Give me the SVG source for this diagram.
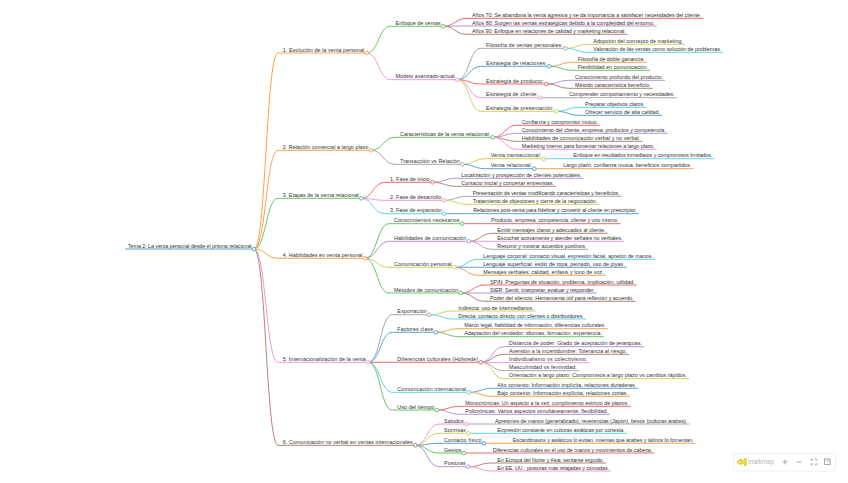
<svg xmlns="http://www.w3.org/2000/svg" width="848" height="483" viewBox="0 0 848 483">
<style>
svg{background:#fff}
.blue{stroke:#5ba3d6}.orange{stroke:#ffa04d}.green{stroke:#6cc26c}.red{stroke:#ee6a6a}.purple{stroke:#b594d6}.brown{stroke:#b0857d}.pink{stroke:#f09ad6}.gray{stroke:#a8a8a8}.olive{stroke:#d1d160}.cyan{stroke:#5fd4e4}
#links path{fill:none;stroke-width:1}
.node line{stroke-width:1}
.node circle{fill:#fff;stroke-width:1}
text{font-family:"Liberation Sans",Arial,sans-serif;font-size:5.4px;fill:#333;stroke:none;transform:translateY(.5px)}
#toolbar rect{fill:#fff;stroke:#ececec;stroke-width:.8}
#toolbar .ic{fill:none;stroke:#aaa;stroke-width:1.1}
#toolbar text{font-size:6.3px;fill:#b5b5b5;transform:none}
</style>
<g id="links">
<path class="orange" d="M254 249C266 249 266 53 278 53"/>
<path class="orange" d="M254 249C266 249 266 150.3 278 150.3"/>
<path class="green" d="M254 249C266 249 266 198.3 278 198.3"/>
<path class="orange" d="M254 249C266 249 266 258.3 278 258.3"/>
<path class="pink" d="M254 249C266 249 266 362.3 278 362.3"/>
<path class="brown" d="M254 249C266 249 266 445.3 278 445.3"/>
<path class="green" d="M366.7 53C378.6 53 378.6 26.3 390.5 26.3"/>
<path class="pink" d="M366.7 53C378.6 53 378.6 79.7 390.5 79.7"/>
<path class="red" d="M443.3 26.3C455 26.3 455 18.3 467 18.3"/>
<path class="purple" d="M443.3 26.3C455 26.3 455 26 467 26"/>
<path class="brown" d="M443.3 26.3C455 26.3 455 34.3 467 34.3"/>
<path class="gray" d="M457.3 79.7C469.2 79.7 469.2 48.3 481 48.3"/>
<path class="blue" d="M457.3 79.7C469.2 79.7 469.2 66.3 481 66.3"/>
<path class="red" d="M457.3 79.7C469.2 79.7 469.2 84 481 84"/>
<path class="pink" d="M457.3 79.7C469.2 79.7 469.2 97.7 481 97.7"/>
<path class="olive" d="M457.3 79.7C469.2 79.7 469.2 111.3 481 111.3"/>
<path class="olive" d="M565.3 48.3C577 48.3 577 44.3 588.3 44.3"/>
<path class="cyan" d="M565.3 48.3C577 48.3 577 52.3 588.3 52.3"/>
<path class="orange" d="M549.3 66.3C561 66.3 561 62.3 572.7 62.3"/>
<path class="green" d="M549.3 66.3C561 66.3 561 70.3 572.7 70.3"/>
<path class="purple" d="M546.3 84C558 84 558 80.3 570 80.3"/>
<path class="brown" d="M546.3 84C558 84 558 88.3 570 88.3"/>
<path class="gray" d="M540.3 97.7H564"/>
<path class="cyan" d="M556.3 111.3C568 111.3 568 107.3 580 107.3"/>
<path class="blue" d="M556.3 111.3C568 111.3 568 115.3 580 115.3"/>
<path class="green" d="M371 150.3C383 150.3 383 137.3 395 137.3"/>
<path class="gray" d="M371 150.3C383 150.3 383 164.3 395 164.3"/>
<path class="red" d="M492.7 137.3C504.7 137.3 504.7 125.3 516.7 125.3"/>
<path class="purple" d="M492.7 137.3C504.7 137.3 504.7 133.3 516.7 133.3"/>
<path class="brown" d="M492.7 137.3C504.7 137.3 504.7 141.3 516.7 141.3"/>
<path class="pink" d="M492.7 137.3C504.7 137.3 504.7 149.3 516.7 149.3"/>
<path class="olive" d="M462.3 164.3C474 164.3 474 158.7 485.7 158.7"/>
<path class="blue" d="M462.3 164.3C474 164.3 474 168.7 485.7 168.7"/>
<path class="cyan" d="M543.7 158.7H568.3"/>
<path class="orange" d="M534.3 168.7H558.3"/>
<path class="red" d="M361.3 198.3C373 198.3 373 182.3 385 182.3"/>
<path class="pink" d="M361.3 198.3C373 198.3 373 200.3 385 200.3"/>
<path class="cyan" d="M361.3 198.3C373 198.3 373 213.7 385 213.7"/>
<path class="purple" d="M432.3 182.3C444.3 182.3 444.3 178.3 456.3 178.3"/>
<path class="brown" d="M432.3 182.3C444.3 182.3 444.3 186.3 456.3 186.3"/>
<path class="gray" d="M443.7 200.3C455.7 200.3 455.7 196.3 467.7 196.3"/>
<path class="olive" d="M443.7 200.3C455.7 200.3 455.7 204.3 467.7 204.3"/>
<path class="blue" d="M444.3 213.7H468.3"/>
<path class="green" d="M365 258.3C377 258.3 377 223.7 389 223.7"/>
<path class="purple" d="M365 258.3C377 258.3 377 241.3 389 241.3"/>
<path class="olive" d="M365 258.3C377 258.3 377 267.3 389 267.3"/>
<path class="green" d="M365 258.3C377 258.3 377 293 389 293"/>
<path class="red" d="M462 223.7H486"/>
<path class="brown" d="M468.7 241.3C480.5 241.3 480.5 233.3 492.3 233.3"/>
<path class="pink" d="M468.7 241.3H492.3"/>
<path class="gray" d="M468.7 241.3C480.5 241.3 480.5 249.3 492.3 249.3"/>
<path class="cyan" d="M454.3 267.3C466.3 267.3 466.3 259.3 478.3 259.3"/>
<path class="blue" d="M454.3 267.3H478.3"/>
<path class="orange" d="M454.3 267.3C466.3 267.3 466.3 275.3 478.3 275.3"/>
<path class="red" d="M460.7 293C473 293 473 285 485 285"/>
<path class="purple" d="M460.7 293H485"/>
<path class="brown" d="M460.7 293C473 293 473 301.3 485 301.3"/>
<path class="gray" d="M368.3 362.3C380.3 362.3 380.3 314.7 392.3 314.7"/>
<path class="blue" d="M368.3 362.3C380.3 362.3 380.3 332.3 392.3 332.3"/>
<path class="red" d="M368.3 362.3H392.3"/>
<path class="cyan" d="M368.3 362.3C380.3 362.3 380.3 392.3 392.3 392.3"/>
<path class="green" d="M368.3 362.3C380.3 362.3 380.3 410 392.3 410"/>
<path class="olive" d="M429.3 314.7C441.3 314.7 441.3 311 453.3 311"/>
<path class="cyan" d="M429.3 314.7C441.3 314.7 441.3 319 453.3 319"/>
<path class="orange" d="M435.7 332.3C447.5 332.3 447.5 328.7 459.3 328.7"/>
<path class="green" d="M435.7 332.3C447.5 332.3 447.5 336.7 459.3 336.7"/>
<path class="purple" d="M480.7 362.3C492.3 362.3 492.3 346.7 504 346.7"/>
<path class="brown" d="M480.7 362.3C492.3 362.3 492.3 354.3 504 354.3"/>
<path class="pink" d="M480.7 362.3C492.3 362.3 492.3 362.7 504 362.7"/>
<path class="gray" d="M480.7 362.3C492.3 362.3 492.3 370.7 504 370.7"/>
<path class="olive" d="M480.7 362.3C492.3 362.3 492.3 378.7 504 378.7"/>
<path class="blue" d="M468.7 392.3C480.5 392.3 480.5 388.3 492.3 388.3"/>
<path class="orange" d="M468.7 392.3C480.5 392.3 480.5 396.3 492.3 396.3"/>
<path class="red" d="M436.7 410C448.5 410 448.5 406.3 460.3 406.3"/>
<path class="purple" d="M436.7 410C448.5 410 448.5 414.3 460.3 414.3"/>
<path class="pink" d="M415.3 445.3C427 445.3 427 424 439 424"/>
<path class="olive" d="M415.3 445.3C427 445.3 427 433.3 439 433.3"/>
<path class="blue" d="M415.3 445.3C427 445.3 427 443.3 439 443.3"/>
<path class="green" d="M415.3 445.3C427 445.3 427 453 439 453"/>
<path class="purple" d="M415.3 445.3C427 445.3 427 466.7 439 466.7"/>
<path class="gray" d="M466.3 424H490"/>
<path class="cyan" d="M468.3 433.3H492.3"/>
<path class="orange" d="M484 443.3H507.7"/>
<path class="red" d="M464 453H487.7"/>
<path class="brown" d="M468.3 466.7C480.3 466.7 480.3 463 492.3 463"/>
<path class="pink" d="M468.3 466.7C480.3 466.7 480.3 471 492.3 471"/>
</g>
<g id="root" class="node blue"><line x1="125" y1="249" x2="254" y2="249"/><circle cx="254" cy="249" r="1.8"/><text x="128" y="247.3" textLength="123.5">Tema 2: La venta personal desde el prisma relacional</text></g>
<g id="n1" class="node orange"><line x1="278" y1="53" x2="366.7" y2="53"/><circle cx="366.7" cy="53" r="1.8"/><text x="282.7" y="51" textLength="81.5">1. Evolución de la venta personal</text></g>
<g id="n1-1" class="node green"><line x1="390.5" y1="26.3" x2="443.3" y2="26.3"/><circle cx="443.3" cy="26.3" r="1.8"/><text x="395.5" y="24.3" textLength="45.3">Enfoque de ventas</text></g>
<g id="n1-1-1" class="node red"><line x1="467" y1="18.3" x2="703.3" y2="18.3"/><text x="472" y="16.3" textLength="229.3">Años 70: Se abandona la venta agresiva y se da importancia a satisfacer necesidades del cliente.</text></g>
<g id="n1-1-2" class="node purple"><line x1="467" y1="26" x2="656.7" y2="26"/><text x="472" y="24" textLength="182.7">Años 80: Surgen las ventas estratégicas debido a la complejidad del entorno.</text></g>
<g id="n1-1-3" class="node brown"><line x1="467" y1="34.3" x2="627.7" y2="34.3"/><text x="472" y="32.3" textLength="153.7">Años 90: Enfoque en relaciones de calidad y marketing relacional.</text></g>
<g id="n1-2" class="node pink"><line x1="390.5" y1="79.7" x2="457.3" y2="79.7"/><circle cx="457.3" cy="79.7" r="1.8"/><text x="395.5" y="77.7" textLength="59.3">Modelo avanzado-actual</text></g>
<g id="n1-2-1" class="node gray"><line x1="481" y1="48.3" x2="565.3" y2="48.3"/><circle cx="565.3" cy="48.3" r="1.8"/><text x="486" y="46.3" textLength="76.8">Filosofía de ventas personales:</text></g>
<g id="n1-2-1-1" class="node olive"><line x1="588.3" y1="44.3" x2="685" y2="44.3"/><text x="593.3" y="42.3" textLength="89.7">Adopción del concepto de marketing.</text></g>
<g id="n1-2-1-2" class="node cyan"><line x1="588.3" y1="52.3" x2="723.3" y2="52.3"/><text x="593.3" y="50.3" textLength="128">Valoración de las ventas como solución de problemas.</text></g>
<g id="n1-2-2" class="node blue"><line x1="481" y1="66.3" x2="549.3" y2="66.3"/><circle cx="549.3" cy="66.3" r="1.8"/><text x="486" y="64.3" textLength="60.8">Estrategia de relaciones:</text></g>
<g id="n1-2-2-1" class="node orange"><line x1="572.7" y1="62.3" x2="646.7" y2="62.3"/><text x="577.7" y="60.3" textLength="67">Filosofía de doble ganancia.</text></g>
<g id="n1-2-2-2" class="node green"><line x1="572.7" y1="70.3" x2="650" y2="70.3"/><text x="577.7" y="68.3" textLength="70.3">Flexibilidad en comunicación.</text></g>
<g id="n1-2-3" class="node red"><line x1="481" y1="84" x2="546.3" y2="84"/><circle cx="546.3" cy="84" r="1.8"/><text x="486" y="82" textLength="57.8">Estrategia de producto:</text></g>
<g id="n1-2-3-1" class="node purple"><line x1="570" y1="80.3" x2="665" y2="80.3"/><text x="575" y="78.3" textLength="88">Conocimiento profundo del producto.</text></g>
<g id="n1-2-3-2" class="node brown"><line x1="570" y1="88.3" x2="652.7" y2="88.3"/><text x="575" y="86.3" textLength="75.7">Método característica beneficio.</text></g>
<g id="n1-2-4" class="node pink"><line x1="481" y1="97.7" x2="540.3" y2="97.7"/><circle cx="540.3" cy="97.7" r="1.8"/><text x="486" y="95.7" textLength="51.8">Estrategia de cliente:</text></g>
<g id="n1-2-4-1" class="node gray"><line x1="564" y1="97.7" x2="676.7" y2="97.7"/><text x="569" y="95.7" textLength="105.7">Comprender comportamiento y necesidades.</text></g>
<g id="n1-2-5" class="node olive"><line x1="481" y1="111.3" x2="556.3" y2="111.3"/><circle cx="556.3" cy="111.3" r="1.8"/><text x="486" y="109.3" textLength="67.8">Estrategia de presentación:</text></g>
<g id="n1-2-5-1" class="node cyan"><line x1="580" y1="107.3" x2="646.7" y2="107.3"/><text x="585" y="105.3" textLength="59.7">Preparar objetivos claros.</text></g>
<g id="n1-2-5-2" class="node blue"><line x1="580" y1="115.3" x2="662" y2="115.3"/><text x="585" y="113.3" textLength="75">Ofrecer servicio de alta calidad.</text></g>
<g id="n2" class="node orange"><line x1="278" y1="150.3" x2="371" y2="150.3"/><circle cx="371" cy="150.3" r="1.8"/><text x="282.7" y="148.3" textLength="85.8">2. Relación comercial a largo plazo</text></g>
<g id="n2-1" class="node green"><line x1="395" y1="137.3" x2="492.7" y2="137.3"/><circle cx="492.7" cy="137.3" r="1.8"/><text x="400" y="135.3" textLength="90.2">Características de la venta relacional:</text></g>
<g id="n2-1-1" class="node red"><line x1="516.7" y1="125.3" x2="600" y2="125.3"/><text x="521.7" y="123.3" textLength="76.3">Confianza y compromiso mutuo.</text></g>
<g id="n2-1-2" class="node purple"><line x1="516.7" y1="133.3" x2="667.7" y2="133.3"/><text x="521.7" y="131.3" textLength="144">Conocimiento del cliente, empresa, productos y competencia.</text></g>
<g id="n2-1-3" class="node brown"><line x1="516.7" y1="141.3" x2="642.3" y2="141.3"/><text x="521.7" y="139.3" textLength="118.6">Habilidades de comunicación verbal y no verbal.</text></g>
<g id="n2-1-4" class="node pink"><line x1="516.7" y1="149.3" x2="656.7" y2="149.3"/><text x="521.7" y="147.3" textLength="133">Marketing interno para fomentar relaciones a largo plazo.</text></g>
<g id="n2-2" class="node gray"><line x1="395" y1="164.3" x2="462.3" y2="164.3"/><circle cx="462.3" cy="164.3" r="1.8"/><text x="400" y="162.3" textLength="59.8">Transacción vs Relación</text></g>
<g id="n2-2-1" class="node olive"><line x1="485.7" y1="158.7" x2="543.7" y2="158.7"/><circle cx="543.7" cy="158.7" r="1.8"/><text x="490.7" y="156.7" textLength="50.5">Venta transaccional:</text></g>
<g id="n2-2-1-1" class="node cyan"><line x1="568.3" y1="158.7" x2="714.3" y2="158.7"/><text x="573.3" y="156.7" textLength="139">Enfoque en resultados inmediatos y compromisos limitados.</text></g>
<g id="n2-2-2" class="node blue"><line x1="485.7" y1="168.7" x2="534.3" y2="168.7"/><circle cx="534.3" cy="168.7" r="1.8"/><text x="490.7" y="166.7" textLength="41.1">Venta relacional:</text></g>
<g id="n2-2-2-1" class="node orange"><line x1="558.3" y1="168.7" x2="693.3" y2="168.7"/><text x="563.3" y="166.7" textLength="128">Largo plazo, confianza mutua, beneficios compartidos.</text></g>
<g id="n3" class="node green"><line x1="278" y1="198.3" x2="361.3" y2="198.3"/><circle cx="361.3" cy="198.3" r="1.8"/><text x="282.7" y="196.3" textLength="76.1">3. Etapas de la venta relacional</text></g>
<g id="n3-1" class="node red"><line x1="385" y1="182.3" x2="432.3" y2="182.3"/><circle cx="432.3" cy="182.3" r="1.8"/><text x="390" y="180.3" textLength="39.8">1. Fase de inicio</text></g>
<g id="n3-1-1" class="node purple"><line x1="456.3" y1="178.3" x2="583.3" y2="178.3"/><text x="461.3" y="176.3" textLength="120">Localización y prospección de clientes potenciales.</text></g>
<g id="n3-1-2" class="node brown"><line x1="456.3" y1="186.3" x2="556" y2="186.3"/><text x="461.3" y="184.3" textLength="92.7">Contacto inicial y concertar entrevistas.</text></g>
<g id="n3-2" class="node pink"><line x1="385" y1="200.3" x2="443.7" y2="200.3"/><circle cx="443.7" cy="200.3" r="1.8"/><text x="390" y="198.3" textLength="51.2">2. Fase de desarrollo</text></g>
<g id="n3-2-1" class="node gray"><line x1="467.7" y1="196.3" x2="621.7" y2="196.3"/><text x="472.7" y="194.3" textLength="147">Presentación de ventas modificando características y beneficios.</text></g>
<g id="n3-2-2" class="node olive"><line x1="467.7" y1="204.3" x2="599.3" y2="204.3"/><text x="472.7" y="202.3" textLength="124.6">Tratamiento de objeciones y cierre de la negociación.</text></g>
<g id="n3-3" class="node cyan"><line x1="385" y1="213.7" x2="444.3" y2="213.7"/><circle cx="444.3" cy="213.7" r="1.8"/><text x="390" y="211.7" textLength="51.8">3. Fase de expansión</text></g>
<g id="n3-3-1" class="node blue"><line x1="468.3" y1="213.7" x2="638.7" y2="213.7"/><text x="473.3" y="211.7" textLength="163.4">Relaciones post-venta para fidelizar y convertir al cliente en prescriptor.</text></g>
<g id="n4" class="node orange"><line x1="278" y1="258.3" x2="365" y2="258.3"/><circle cx="365" cy="258.3" r="1.8"/><text x="282.7" y="256.3" textLength="79.8">4. Habilidades en venta personal</text></g>
<g id="n4-1" class="node green"><line x1="389" y1="223.7" x2="462" y2="223.7"/><circle cx="462" cy="223.7" r="1.8"/><text x="394" y="221.7" textLength="65.5">Conocimientos necesarios</text></g>
<g id="n4-1-1" class="node red"><line x1="486" y1="223.7" x2="620.7" y2="223.7"/><text x="491" y="221.7" textLength="127.7">Producto, empresa, competencia, cliente y uno mismo.</text></g>
<g id="n4-2" class="node purple"><line x1="389" y1="241.3" x2="468.7" y2="241.3"/><circle cx="468.7" cy="241.3" r="1.8"/><text x="394" y="239.3" textLength="72.2">Habilidades de comunicación</text></g>
<g id="n4-2-1" class="node brown"><line x1="492.3" y1="233.3" x2="607.7" y2="233.3"/><text x="497.3" y="231.3" textLength="108.4">Emitir mensajes claros y adecuados al cliente.</text></g>
<g id="n4-2-2" class="node pink"><line x1="492.3" y1="241.3" x2="624.3" y2="241.3"/><text x="497.3" y="239.3" textLength="125">Escuchar activamente y atender señales no verbales.</text></g>
<g id="n4-2-3" class="node gray"><line x1="492.3" y1="249.3" x2="588.3" y2="249.3"/><text x="497.3" y="247.3" textLength="89">Resumir y mostrar acuerdos positivos.</text></g>
<g id="n4-3" class="node olive"><line x1="389" y1="267.3" x2="454.3" y2="267.3"/><circle cx="454.3" cy="267.3" r="1.8"/><text x="394" y="265.3" textLength="57.8">Comunicación personal</text></g>
<g id="n4-3-1" class="node cyan"><line x1="478.3" y1="259.3" x2="655" y2="259.3"/><text x="483.3" y="257.3" textLength="169.7">Lenguaje corporal: contacto visual, expresión facial, apretón de manos.</text></g>
<g id="n4-3-2" class="node blue"><line x1="478.3" y1="267.3" x2="626.7" y2="267.3"/><text x="483.3" y="265.3" textLength="141.4">Lenguaje superficial: estilo de ropa, peinado, uso de joyas.</text></g>
<g id="n4-3-3" class="node orange"><line x1="478.3" y1="275.3" x2="605.7" y2="275.3"/><text x="483.3" y="273.3" textLength="120.4">Mensajes verbales: calidad, énfasis y tono de voz.</text></g>
<g id="n4-4" class="node green"><line x1="389" y1="293" x2="460.7" y2="293"/><circle cx="460.7" cy="293" r="1.8"/><text x="394" y="291" textLength="64.2">Métodos de comunicación</text></g>
<g id="n4-4-1" class="node red"><line x1="485" y1="285" x2="636.7" y2="285"/><text x="490" y="283" textLength="144.7">SPIN: Preguntas de situación, problema, implicación, utilidad.</text></g>
<g id="n4-4-2" class="node purple"><line x1="485" y1="293" x2="596.7" y2="293"/><text x="490" y="291" textLength="104.7">SIER: Sentir, interpretar, evaluar y responder.</text></g>
<g id="n4-4-3" class="node brown"><line x1="485" y1="301.3" x2="635.7" y2="301.3"/><text x="490" y="299.3" textLength="143.7">Poder del silencio: Herramienta útil para reflexión y acuerdo.</text></g>
<g id="n5" class="node pink"><line x1="278" y1="362.3" x2="368.3" y2="362.3"/><circle cx="368.3" cy="362.3" r="1.8"/><text x="282.7" y="360.3" textLength="83.1">5. Internacionalización de la venta</text></g>
<g id="n5-1" class="node gray"><line x1="392.3" y1="314.7" x2="429.3" y2="314.7"/><circle cx="429.3" cy="314.7" r="1.8"/><text x="397.3" y="312.7" textLength="29.5">Exportación</text></g>
<g id="n5-1-1" class="node olive"><line x1="453.3" y1="311" x2="535.7" y2="311"/><text x="458.3" y="309" textLength="75.4">Indirecta: uso de intermediarios.</text></g>
<g id="n5-1-2" class="node cyan"><line x1="453.3" y1="319" x2="586" y2="319"/><text x="458.3" y="317" textLength="125.7">Directa: contacto directo con clientes o distribuidores.</text></g>
<g id="n5-2" class="node blue"><line x1="392.3" y1="332.3" x2="435.7" y2="332.3"/><circle cx="435.7" cy="332.3" r="1.8"/><text x="397.3" y="330.3" textLength="35.9">Factores clave</text></g>
<g id="n5-2-1" class="node orange"><line x1="459.3" y1="328.7" x2="607.7" y2="328.7"/><text x="464.3" y="326.7" textLength="141.4">Marco legal, fiabilidad de información, diferencias culturales.</text></g>
<g id="n5-2-2" class="node green"><line x1="459.3" y1="336.7" x2="604" y2="336.7"/><text x="464.3" y="334.7" textLength="137.7">Adaptación del vendedor: idiomas, formación, experiencia.</text></g>
<g id="n5-3" class="node red"><line x1="392.3" y1="362.3" x2="480.7" y2="362.3"/><circle cx="480.7" cy="362.3" r="1.8"/><text x="397.3" y="360.3" textLength="80.9">Diferencias culturales (Hofstede)</text></g>
<g id="n5-3-1" class="node purple"><line x1="504" y1="346.7" x2="644" y2="346.7"/><text x="509" y="344.7" textLength="133">Distancia de poder: Grado de aceptación de jerarquías.</text></g>
<g id="n5-3-2" class="node brown"><line x1="504" y1="354.3" x2="629" y2="354.3"/><text x="509" y="352.3" textLength="118">Aversión a la incertidumbre: Tolerancia al riesgo.</text></g>
<g id="n5-3-3" class="node pink"><line x1="504" y1="362.7" x2="589.3" y2="362.7"/><text x="509" y="360.7" textLength="78.3">Individualismo vs colectivismo.</text></g>
<g id="n5-3-4" class="node gray"><line x1="504" y1="370.7" x2="579" y2="370.7"/><text x="509" y="368.7" textLength="68">Masculinidad vs feminidad.</text></g>
<g id="n5-3-5" class="node olive"><line x1="504" y1="378.7" x2="689" y2="378.7"/><text x="509" y="376.7" textLength="178">Orientación a largo plazo: Compromisos a largo plazo vs cambios rápidos.</text></g>
<g id="n5-4" class="node cyan"><line x1="392.3" y1="392.3" x2="468.7" y2="392.3"/><circle cx="468.7" cy="392.3" r="1.8"/><text x="397.3" y="390.3" textLength="68.9">Comunicación internacional</text></g>
<g id="n5-4-1" class="node blue"><line x1="492.3" y1="388.3" x2="638.3" y2="388.3"/><text x="497.3" y="386.3" textLength="139">Alto contexto: Información implícita, relaciones duraderas.</text></g>
<g id="n5-4-2" class="node orange"><line x1="492.3" y1="396.3" x2="630" y2="396.3"/><text x="497.3" y="394.3" textLength="130.7">Bajo contexto: Información explícita, relaciones cortas.</text></g>
<g id="n5-5" class="node green"><line x1="392.3" y1="410" x2="436.7" y2="410"/><circle cx="436.7" cy="410" r="1.8"/><text x="397.3" y="408" textLength="36.9">Uso del tiempo</text></g>
<g id="n5-5-1" class="node red"><line x1="460.3" y1="406.3" x2="630.7" y2="406.3"/><text x="465.3" y="404.3" textLength="163.4">Monocrónicas: Un aspecto a la vez, cumplimiento estricto de plazos.</text></g>
<g id="n5-5-2" class="node purple"><line x1="460.3" y1="414.3" x2="610" y2="414.3"/><text x="465.3" y="412.3" textLength="142.7">Policrónicas: Varios aspectos simultáneamente, flexibilidad.</text></g>
<g id="n6" class="node brown"><line x1="278" y1="445.3" x2="415.3" y2="445.3"/><circle cx="415.3" cy="445.3" r="1.8"/><text x="282.7" y="443.3" textLength="130.1">6. Comunicación no verbal en ventas internacionales</text></g>
<g id="n6-1" class="node pink"><line x1="439" y1="424" x2="466.3" y2="424"/><circle cx="466.3" cy="424" r="1.8"/><text x="444" y="422" textLength="19.8">Saludos</text></g>
<g id="n6-1-1" class="node gray"><line x1="490" y1="424" x2="689.3" y2="424"/><text x="495" y="422" textLength="192.3">Apretones de manos (generalizado), reverencias (Japón), besos (culturas árabes).</text></g>
<g id="n6-2" class="node olive"><line x1="439" y1="433.3" x2="468.3" y2="433.3"/><circle cx="468.3" cy="433.3" r="1.8"/><text x="444" y="431.3" textLength="21.8">Sonrisas</text></g>
<g id="n6-2-1" class="node cyan"><line x1="492.3" y1="433.3" x2="626.7" y2="433.3"/><text x="497.3" y="431.3" textLength="127.4">Expresión constante en culturas asiáticas por cortesía.</text></g>
<g id="n6-3" class="node blue"><line x1="439" y1="443.3" x2="484" y2="443.3"/><circle cx="484" cy="443.3" r="1.8"/><text x="444" y="441.3" textLength="37.5">Contacto físico</text></g>
<g id="n6-3-1" class="node orange"><line x1="507.7" y1="443.3" x2="695.7" y2="443.3"/><text x="512.7" y="441.3" textLength="181">Escandinavos y asiáticos lo evitan, mientas que árabes y latinos lo fomentan.</text></g>
<g id="n6-4" class="node green"><line x1="439" y1="453" x2="464" y2="453"/><circle cx="464" cy="453" r="1.8"/><text x="444" y="451" textLength="17.5">Gestos</text></g>
<g id="n6-4-1" class="node red"><line x1="487.7" y1="453" x2="654.3" y2="453"/><text x="492.7" y="451" textLength="159.6">Diferencias culturales en el uso de manos y movimientos de cabeza.</text></g>
<g id="n6-5" class="node purple"><line x1="439" y1="466.7" x2="468.3" y2="466.7"/><circle cx="468.3" cy="466.7" r="1.8"/><text x="444" y="464.7" textLength="21.8">Posturas</text></g>
<g id="n6-5-1" class="node brown"><line x1="492.3" y1="463" x2="606" y2="463"/><text x="497.3" y="461" textLength="106.7">En Europa del Norte y Asia: sentarse erguido.</text></g>
<g id="n6-5-2" class="node pink"><line x1="492.3" y1="471" x2="611" y2="471"/><text x="497.3" y="469" textLength="111.7">En EE. UU.: posturas más relajadas y cómodas.</text></g>
<g id="toolbar">
<rect x="733.5" y="453.5" width="102" height="17.5" rx="2"/>
<path d="M737 462L741 459.3V461H746V459H744M741 464.7V463H746V465H744M737 462L741 464.7" fill="none" stroke="#d8cc1e" stroke-width="1.4"/>
<text x="748" y="464.3" textLength="26">markmap</text>
<path class="ic" d="M782.5 462H787.5M785 459.5V464.5M796.5 462H801.5"/>
<path class="ic" d="M810.5 460H812.2V458.4M817.5 460H815.8V458.4M810.5 464H812.2V465.6M817.5 464H815.8V465.6"/>
<rect class="ic" x="824.5" y="459" width="5.5" height="5.5" style="fill:none;stroke:#aaa"/>
<path class="ic" d="M826.5 461H829"/>
</g>
</svg>
